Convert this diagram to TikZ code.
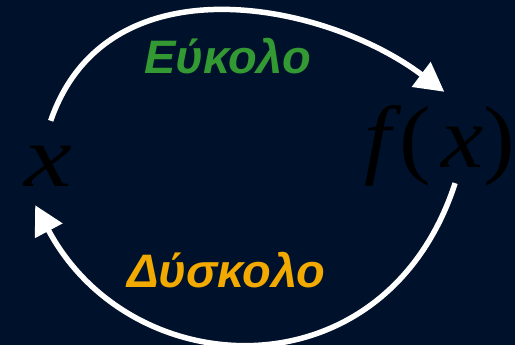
\documentclass[tikz,border=0pt]{standalone}
\usepackage{fontspec}
\setmainfont{Liberation Serif}
\newfontfamily\greekfont{Liberation Sans}
\usetikzlibrary{arrows.meta}
\definecolor{night}{HTML}{00112B}
\definecolor{easy}{HTML}{339933}
\definecolor{hard}{HTML}{F2A900}

\begin{document}
\begin{tikzpicture}[x=1pt,y=1pt,
  >={Triangle[length=29pt,width=30pt]},
  var/.style={inner sep=0pt,anchor=base,font=\fontsize{88}{88}\selectfont\itshape,text=black},
  word/.style={inner sep=0pt,anchor=base west,font=\greekfont\fontsize{47}{47}\selectfont\bfseries\itshape},
  link/.style={draw=white,line width=5.5pt,->}
]
\useasboundingbox (0,0) rectangle (515,345);
\fill[night] (0,0) rectangle (515,345);
% the two ends
\node[var,xscale=1.22,text height=66pt,text depth=18pt] (x) at (48,158) {x};
\node[var,xscale=1.08,text height=76pt,text depth=15pt] (fx) at (440,177) {f\kern8pt\textup{(}\kern9pt x\textup{)}};
% labels
\node[word,text=easy] (easy) at (144,271) {Εύκολο};
\node[word,text=hard] (hard) at (127,57) {Δύσκολο};
% arrows
\draw[link] (x.87) .. controls +(71:172) and +(143:150) .. (fx.85);
\draw[link] (fx.-73) .. controls +(252:225) and +(-62:205) .. (x.-104);
\end{tikzpicture}
\end{document}
